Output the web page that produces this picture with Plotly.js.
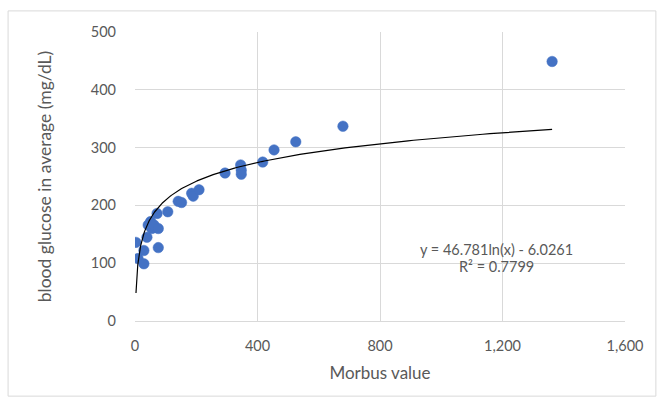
<!DOCTYPE html>
<html><head><meta charset="utf-8">
<script src="https://cdn.plot.ly/plotly-3.0.1.min.js"></script>
<style>html,body{margin:0;padding:0;background:#fff;}#chart{width:663px;height:401px;}</style>
</head><body><div id="chart"></div>
<script>
const morbus = [3.2, 10, 29, 29, 39, 43, 51, 55, 62, 72, 76, 76, 107, 141, 152, 185, 190, 209, 294, 345, 347, 347, 417, 454, 525, 679, 1362];
const glucose = [136, 108, 122, 99, 145, 166, 172, 160, 166, 186, 160, 127, 189, 207, 205, 221, 216, 227, 256, 270, 261, 254, 275, 296, 310, 337, 449];
const trendA = 46.781, trendB = -6.0261;
const trendLabel = "y = 46.781ln(x) - 6.0261";
const r2Label = "R² = 0.7799";
const xTicks = [0, 400, 800, 1200, 1600];
const xTickText = ["0", "400", "800", "1,200", "1,600"];
const yTicks = [0, 100, 200, 300, 400, 500];

const xmin = Math.min(...morbus), xmax = Math.max(...morbus);
const tx = [], ty = [];
const n = 300;
for (let i = 0; i <= n; i++) {
  const x = Math.exp(Math.log(xmin) + (Math.log(xmax) - Math.log(xmin)) * i / n);
  tx.push(x); ty.push(trendA * Math.log(x) + trendB);
}
const font = "Lato, 'Open Sans', sans-serif";
const grey = "#595959";
const data = [
  {x: morbus, y: glucose, mode: "markers", type: "scatter",
   marker: {color: "#4472C4", size: 10.5, line: {color: "#4472C4", width: 0.5}}, hoverinfo: "x+y"},
  {x: tx, y: ty, mode: "lines", type: "scatter", line: {color: "#000", width: 1.2}, hoverinfo: "skip"}
];
const layout = {
  width: 663, height: 401,
  margin: {l: 135, r: 38, t: 32, b: 80.3},
  paper_bgcolor: "#fff", plot_bgcolor: "#fff",
  showlegend: false,
  font: {family: font, color: grey, size: 14},
  xaxis: {range: [0, 1600], tickvals: xTicks, ticktext: xTickText, showgrid: true, gridcolor: "#D9D9D9", gridwidth: 1,
          zeroline: false, showline: true, linecolor: "#D9D9D9", ticks: "", ticklabelstandoff: 12,
          tickfont: {family: font, size: 14.5, color: grey},
          title: {text: "Morbus value", font: {family: font, size: 17, color: grey}, standoff: 13}},
  yaxis: {range: [0, 500], tickvals: yTicks, showgrid: true, gridcolor: "#D9D9D9", gridwidth: 1,
          zeroline: false, showline: false, ticks: "", ticklabelstandoff: 18,
          tickfont: {family: font, size: 14.5, color: grey},
          title: {text: "blood glucose in average (mg/dL)", font: {family: font, size: 17.5, color: grey}, standoff: 34}},
  shapes: [{type: "rect", xref: "paper", yref: "paper", x0: -0.259, x1: 1.063, y0: -0.26, y1: 1.073,
            line: {color: "#D9D9D9", width: 1}, fillcolor: "rgba(0,0,0,0)", layer: "below"}],
  annotations: [
    {xref: "x", yref: "y", x: 1180, y: 124, text: trendLabel, showarrow: false, font: {family: font, size: 14.5, color: grey}},
    {xref: "x", yref: "y", x: 1180, y: 94, text: r2Label, showarrow: false, font: {family: font, size: 14.5, color: grey}}
  ]
};
Plotly.newPlot("chart", data, layout, {displayModeBar: false, staticPlot: true});
</script></body></html>
